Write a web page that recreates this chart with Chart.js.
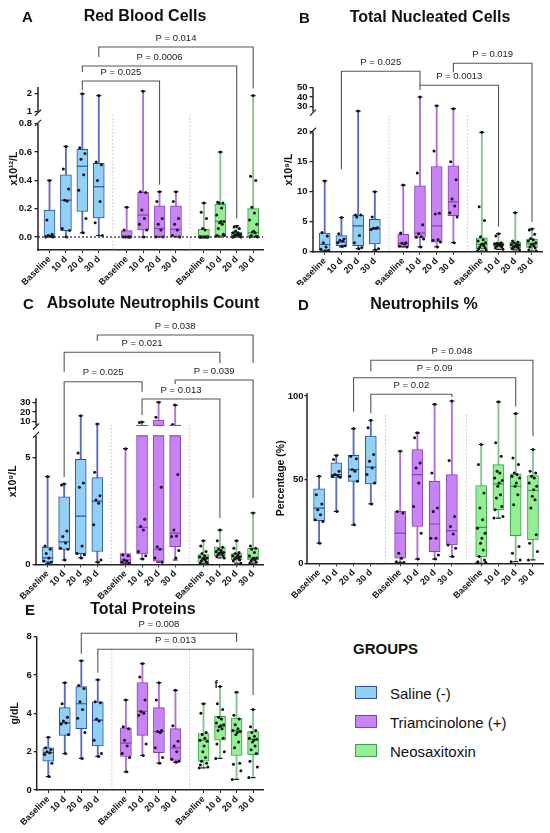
<!DOCTYPE html>
<html>
<head>
<meta charset="utf-8">
<script src="https://cdn.jsdelivr.net/npm/chart.js@4.4.1/dist/chart.umd.min.js"></script>
<style>
body { margin: 0; background: #fff; font-family: "Liberation Sans", Arial, sans-serif; color: #111; }
#wrap { position: relative; width: 550px; height: 833px; overflow: hidden; }
canvas { position: absolute; }
.ttl { position: absolute; font-weight: bold; font-size: 16px; white-space: nowrap; transform: translate(-50%, -50%); }
.let { position: absolute; font-weight: bold; font-size: 15px; transform: translate(0, -50%); }
.lg { position: absolute; font-size: 15px; white-space: nowrap; transform: translate(0, -50%); }
.sw { position: absolute; width: 20px; height: 11px; border: 1.5px solid; }
</style>
</head>
<body>
<div id="wrap">
  <canvas id="cA" width="275" height="295" style="left:0;top:0"></canvas>
  <canvas id="cB" width="275" height="295" style="left:275px;top:0"></canvas>
  <canvas id="cC" width="275" height="325" style="left:0;top:285px"></canvas>
  <canvas id="cD" width="275" height="325" style="left:275px;top:285px"></canvas>
  <canvas id="cE" width="275" height="263" style="left:0;top:570px"></canvas>

  <div class="let" style="left:22px;top:16px">A</div>
  <div class="ttl" style="left:145px;top:16px">Red Blood Cells</div>
  <div class="let" style="left:299px;top:17px">B</div>
  <div class="ttl" style="left:430px;top:17px">Total Nucleated Cells</div>
  <div class="let" style="left:23px;top:303px">C</div>
  <div class="ttl" style="left:153px;top:303px">Absolute Neutrophils Count</div>
  <div class="let" style="left:298px;top:304px">D</div>
  <div class="ttl" style="left:424px;top:304px">Neutrophils %</div>
  <div class="let" style="left:25px;top:609px">E</div>
  <div class="ttl" style="left:143px;top:609px">Total Proteins</div>

  <div class="lg" style="left:353px;top:648px;font-weight:bold">GROUPS</div>
  <div class="sw" style="left:355px;top:686px;background:#92d1f5;border-color:#2f5496"></div>
  <div class="lg" style="left:390px;top:693px">Saline (-)</div>
  <div class="sw" style="left:355px;top:715px;background:#c884f5;border-color:#8b3fb0"></div>
  <div class="lg" style="left:390px;top:722px">Triamcinolone (+)</div>
  <div class="sw" style="left:355px;top:744px;background:#93ef93;border-color:#3f9a4e"></div>
  <div class="lg" style="left:390px;top:751px">Neosaxitoxin</div>
</div>
<script>
// categories (4 time points x 3 groups)
const xLabels = ['Baseline', '10 d', '20 d', '30 d', 'Baseline', '10 d', '20 d', '30 d', 'Baseline', '10 d', '20 d', '30 d'];

// A - Red Blood Cells (x10^12/L)
const rbcMin = [0, 0, 0.03, 0.01, 0, 0, 0, 0, 0, 0, 0, 0];
const rbcQ1 = [0, 0.045, 0.18, 0.135, 0, 0.05, 0, 0, 0, 0.01, 0, 0.005];
const rbcMed = [0.01, 0.26, 0.50, 0.355, 0, 0.155, 0.06, 0.055, 0, 0.11, 0.02, 0.03];
const rbcQ3 = [0.19, 0.44, 0.62, 0.52, 0.045, 0.315, 0.22, 0.22, 0.055, 0.23, 0.035, 0.20];
const rbcMax = [0.40, 0.64, 2.0, 1.9, 0.21, 2.15, 0.32, 0.32, 0.24, 0.60, 0.08, 1.9];
const rbcPts = [
  [0.40, 0.12, 0.02, 0.01, 0.005, 0, 0],
  [0.64, 0.48, 0.34, 0.26, 0.255, 0.06, 0.045, 0],
  [2.0, 0.63, 0.59, 0.55, 0.44, 0.33, 0.13, 0.03],
  [1.9, 0.53, 0.51, 0.40, 0.25, 0.10, 0.01],
  [0.21, 0.05, 0, 0, 0, 0, 0],
  [2.15, 0.32, 0.315, 0.19, 0.13, 0.09, 0.05, 0],
  [0.32, 0.25, 0.13, 0.09, 0.05, 0, 0],
  [0.32, 0.25, 0.13, 0.09, 0.05, 0.01, 0],
  [0.24, 0.175, 0.13, 0.06, 0.05, 0, 0, 0, 0, 0, 0, 0, 0, 0, 0],
  [0.60, 0.245, 0.24, 0.24, 0.205, 0.155, 0.11, 0.11, 0.10, 0.09, 0.06, 0.02, 0.01, 0.01, 0.005],
  [0.075, 0.07, 0.06, 0.04, 0.03, 0.03, 0.02, 0.02, 0.015, 0.01, 0.01, 0.005, 0, 0, 0],
  [1.9, 0.43, 0.40, 0.21, 0.17, 0.12, 0.09, 0.04, 0.035, 0.03, 0.01, 0.005, 0, 0]
];
const rbcTicks = [0, 0.2, 0.4, 0.6, 0.8, 1, 2];
const rbcTickLabels = ['0.0', '0.2', '0.4', '0.6', '0.8', '1', '2'];
const rbcBrackets = [
  { a: 2, b: 6, off: 6, dl: 9, dr: null, t: 'P = 0.025' },
  { a: 2, b: 10, off: 21, dl: 6, dr: null, t: 'P = 0.0006' },
  { a: 3, b: 11, off: 40, dl: 10, dr: null, t: 'P = 0.014' }
];

// B - Total Nucleated Cells (x10^9/L)
const tncMin = [0.1, 0.8, 0.5, 0.3, 0.8, 0.8, 0.8, 1.5, 0.1, 0.4, 0.3, 0.1];
const tncQ1 = [0.2, 1.0, 1.0, 1.3, 0.8, 2.4, 1.6, 6.0, 0.5, 0.9, 0.6, 0.7];
const tncMed = [1.2, 1.6, 4.3, 3.8, 1.4, 3.1, 4.3, 8.3, 1.2, 1.2, 1.0, 1.3];
const tncQ3 = [3.1, 2.7, 6.1, 5.4, 2.9, 11.0, 14.2, 14.3, 2.3, 1.5, 1.6, 2.1];
const tncMax = [11.8, 5.7, 25.5, 10, 11.1, 40, 31, 28, 19.9, 3.0, 6.5, 3.8];
const tncPts = [
  [11.8, 3.2, 2.6, 1.5, 0.8, 0.4, 0.2, 0.1],
  [5.7, 3.0, 2.1, 1.9, 1.8, 1.5, 1.0, 0.9],
  [25.5, 6.1, 6.1, 5.8, 2.7, 1.5, 0.7, 0.5],
  [10, 5.8, 4.0, 3.9, 3.9, 3.7, 0.5, 0.3],
  [11.1, 3.1, 1.5, 1.4, 1.3, 0.9, 0.8],
  [40, 13.1, 4.5, 3.0, 2.5, 2.4, 2.1, 0.8],
  [31, 16.8, 6.4, 6.3, 2.0, 1.9, 1.6, 0.8],
  [28, 15, 12, 8.8, 7.6, 6.5, 5.8, 1.5],
  [19.9, 7.5, 5.2, 2.5, 2.0, 1.8, 1.5, 1.3, 1.2, 1.0, 0.8, 0.6, 0.5, 0.3, 0.1],
  [3.0, 2.6, 1.5, 1.4, 1.3, 1.3, 1.2, 1.2, 1.1, 1.0, 0.9, 0.8, 0.6, 0.4],
  [6.5, 1.8, 1.6, 1.5, 1.3, 1.2, 1.1, 1.0, 0.9, 0.8, 0.7, 0.6, 0.5, 0.3],
  [3.8, 3.6, 2.9, 2.2, 2.0, 1.8, 1.5, 1.3, 1.2, 1.0, 0.8, 0.6, 0.3, 0.1]
];
const tncTicks = [0, 5, 10, 15, 20, 30, 40, 50];
const tncTickLabels = ['0', '5', '10', '15', '20', '30', '40', '50'];
const tncBrackets = [
  { a: 1, b: 5, off: 16, dl: 98, dr: 14, t: 'P = 0.025' },
  { a: 5, b: 9, off: 2, dl: null, dr: null, t: 'P = 0.0013' },
  { a: 7, b: 11, off: 24, dl: 9, dr: null, t: 'P = 0.019' }
];

// C - Absolute Neutrophils Count (x10^9/L)
const ancMin = [0.05, 0.2, 0.3, 0.1, 0.05, 0.25, 0.1, 0.2, 0.02, 0.3, 0.05, 0.05];
const ancQ1 = [0.1, 0.7, 0.5, 0.6, 0.05, 0.48, 0.15, 0.82, 0.1, 0.4, 0.2, 0.2];
const ancMed = [0.3, 1.05, 2.25, 2.95, 0.2, 1.73, 0.71, 1.46, 0.3, 0.55, 0.35, 0.3];
const ancQ3 = [0.8, 3.15, 4.9, 4.05, 0.5, 6.2, 11.5, 6.3, 0.45, 0.8, 0.5, 0.75];
const ancMax = [4.1, 3.75, 16, 7.5, 5.4, 9.5, 30, 27, 1.1, 1.6, 1.1, 2.4];
const ancPts = [
  [4.1, 0.85, 0.7, 0.5, 0.3, 0.15, 0.1, 0.05],
  [3.75, 3.7, 1.55, 1.3, 1.0, 0.75, 0.7, 0.2],
  [16, 5.2, 3.8, 3.6, 0.85, 0.5, 0.45, 0.3],
  [7.5, 4.3, 3.2, 3.0, 2.85, 1.85, 0.2, 0.1],
  [5.4, 0.45, 0.4, 0.2, 0.15, 0.1, 0.05],
  [9.5, 9, 2.1, 1.76, 1.6, 0.6, 0.4, 0.25],
  [30, 14.5, 3.6, 0.82, 0.7, 0.3, 0.1],
  [27, 7, 4.2, 1.6, 1.32, 1.3, 0.64, 0.3],
  [1.1, 0.85, 0.6, 0.5, 0.4, 0.35, 0.3, 0.3, 0.25, 0.2, 0.15, 0.1, 0.05, 0.02],
  [1.6, 1.1, 0.8, 0.7, 0.65, 0.6, 0.55, 0.55, 0.5, 0.5, 0.45, 0.4, 0.35, 0.3],
  [1.1, 0.75, 0.55, 0.5, 0.45, 0.4, 0.35, 0.35, 0.3, 0.3, 0.25, 0.2, 0.15, 0.05],
  [2.4, 0.85, 0.75, 0.7, 0.55, 0.4, 0.3, 0.3, 0.25, 0.2, 0.15, 0.1, 0.05]
];
const ancTicks = [0, 5, 10, 20, 30];
const ancTickLabels = ['0', '5', '10', '20', '30'];
const ancBrackets = [
  { a: 3, b: 11, off: 63.3, dl: 6, dr: 28, t: 'P = 0.038' },
  { a: 1, b: 9, off: 46, dl: 20, dr: 11, t: 'P = 0.021' },
  { a: 1, b: 5, off: 16.6, dl: null, dr: 10, t: 'P = 0.025' },
  { a: 7, b: 11, off: 18.3, dl: 4, dr: 118, t: 'P = 0.039' },
  { a: 5, b: 9, off: -0.7, dl: null, dr: 119, t: 'P = 0.013' }
];

// D - Neutrophils %
const neuMin = [12, 31, 23, 35.5, 0.5, 2.5, 2.5, 4, 0, 27, 1, 2];
const neuQ1 = [25.5, 51, 49, 47.5, 3, 22, 7, 11, 4, 32, 16.5, 14];
const neuMed = [33, 53, 56, 57.5, 18, 53, 23.5, 19.5, 21.5, 47.5, 46, 43.5];
const neuQ3 = [44.5, 60, 64.5, 76, 31, 68, 49, 53, 46.5, 59, 53.5, 52.5];
const neuMax = [52, 64.5, 80.5, 85.5, 67, 78, 95, 97, 71, 96.5, 89.5, 68];
const neuPts = [
  [52, 41, 35.5, 32, 29, 26, 25, 12],
  [64.5, 62, 55, 53, 52.5, 52, 51.5, 31],
  [80.5, 64, 62.5, 56, 55, 52, 49, 23],
  [85.5, 81, 65, 61, 57, 53, 48, 35.5],
  [67, 31, 30, 6, 3, 1, 0.5],
  [78, 75, 60, 57, 48, 34, 18, 2.5],
  [95, 54, 33, 31, 15, 15, 5, 2.5],
  [97, 61.5, 28, 22, 17.5, 11, 9, 4],
  [71, 59, 42, 33, 26, 21, 18, 15, 12, 8, 4, 2, 1, 0.5, 0],
  [96.5, 72, 64, 55, 54, 51, 49.5, 48, 46, 41, 39, 34, 32, 28, 27],
  [89.5, 63, 59, 54, 53, 52, 51, 48, 46, 41, 35, 10, 6, 2, 1],
  [68, 55, 54, 52, 51, 48, 46, 44, 40, 38, 33, 17, 12, 7, 2]
];
const neuTicks = [0, 50, 100];
const neuTickLabels = ['0', '50', '100'];
const neuBrackets = [
  { a: 3, b: 11, off: 33, dl: 11, dr: 76, t: 'P = 0.048' },
  { a: 2, b: 10, off: 15.6, dl: 34, dr: null, t: 'P = 0.09' },
  { a: 3, b: 7, off: -1, dl: null, dr: 3, t: 'P = 0.02' }
];

// E - Total Proteins (g/dL)
const tpMin = [0.7, 1.9, 1.65, 1.75, 0.95, 1.8, 1.4, 1.45, 1.15, 1.65, 0.55, 0.65];
const tpQ1 = [1.5, 2.85, 3.2, 2.3, 1.75, 2.85, 1.95, 1.55, 1.5, 2.6, 1.8, 1.85];
const tpMed = [1.95, 3.5, 4.5, 3.65, 2.45, 4.1, 3.05, 2.2, 2.6, 3.3, 3.1, 2.65];
const tpQ3 = [2.2, 4.3, 5.4, 4.6, 3.25, 5.6, 4.3, 3.2, 2.95, 3.85, 3.75, 3.05];
const tpMax = [2.75, 5.6, 6.75, 5.75, 4.7, 6.6, 5.6, 5.2, 4.5, 5.4, 5.1, 4.2];
const tpPts = [
  [2.75, 2.2, 2.1, 2.0, 1.95, 1.85, 1.4, 0.7],
  [5.6, 4.5, 3.8, 3.6, 3.5, 3.45, 2.9, 1.9],
  [6.75, 5.45, 5.3, 4.6, 4.2, 3.75, 3.0, 1.65],
  [5.75, 4.6, 4.55, 3.7, 3.6, 2.6, 1.9, 1.75],
  [4.7, 3.3, 3.2, 2.6, 2.3, 1.9, 1.7, 0.95],
  [6.6, 5.9, 4.7, 4.1, 4.0, 3.9, 2.4, 1.8],
  [5.6, 4.7, 3.1, 3.05, 3.0, 2.2, 1.7, 1.4],
  [5.2, 3.35, 2.55, 2.3, 2.0, 1.6, 1.5, 1.45],
  [4.5, 4.0, 3.0, 2.9, 2.7, 2.6, 2.55, 2.3, 2.0, 1.7, 1.5, 1.4, 1.3, 1.2, 1.15],
  [5.4, 4.5, 4.2, 3.8, 3.7, 3.5, 3.4, 3.35, 3.3, 3.2, 3.1, 2.7, 2.4, 2.0, 1.65],
  [5.1, 3.9, 3.7, 3.4, 3.2, 3.1, 3.05, 3.0, 2.9, 2.5, 2.2, 1.4, 1.35, 1.0, 0.55],
  [4.2, 3.3, 3.1, 3.0, 2.8, 2.7, 2.65, 2.6, 2.5, 2.3, 2.1, 1.9, 1.5, 1.2, 0.65]
];
const tpTicks = [0, 2, 4, 6, 8];
const tpTickLabels = ['0', '2', '4', '6', '8'];
const tpBrackets = [
  { a: 2, b: 10, off: 3.4, dl: null, dr: 8.4, t: 'P = 0.008' },
  { a: 3, b: 11, off: -12.6, dl: null, dr: 45.7, t: 'P = 0.013' }
];

// layout / style
const xPos = [0, 1, 2, 3, 4.7, 5.7, 6.7, 7.7, 9.4, 10.4, 11.4, 12.4];
const sepPos = [3.85, 8.55];
const jit = [0, -0.16, 0.16, -0.08, 0.08, -0.22, 0.22, 0.04, -0.04, 0.12, -0.12, 0.19, -0.19, 0.26, -0.26];
const pick = (i, a, b, c) => (i < 4 ? a : i < 8 ? b : c);
const fills = xPos.map((_, i) => pick(i, '#92d1f5', '#c884f5', '#93ef93'));
const edges = xPos.map((_, i) => pick(i, '#2f5496', '#8b3fb0', '#3f9a4e'));
const whisk = xPos.map((_, i) => pick(i, '#5a6cc0', '#b070d6', '#86c292'));
const FONT = '"Liberation Sans", Arial, sans-serif';

Chart.defaults.font.family = FONT;
Chart.defaults.color = '#111';

// piecewise mapping for broken y axes
function makeT(b) {
  if (!b) return v => v;
  return v => {
    if (v <= b.lowMax) return v;
    if (v >= b.highMin) return b.hd + (v - b.highMin) * b.hs;
    return b.lowMax + (v - b.lowMax) / (b.highMin - b.lowMax) * (b.hd - b.lowMax);
  };
}
function gapHi(b) { return b.hd + Math.max(0, b.lowMax - b.highMin) * b.hs; }

function extras(p, T) {
  const line = (ctx, x1, y1, x2, y2) => { ctx.beginPath(); ctx.moveTo(x1, y1); ctx.lineTo(x2, y2); ctx.stroke(); };
  return {
    id: 'extras',
    beforeDatasetsDraw(chart) {
      const { ctx, chartArea: a, scales: { x, y } } = chart;
      ctx.save();
      ctx.strokeStyle = '#c4c4c4';
      ctx.lineWidth = 1;
      ctx.setLineDash([1.5, 2]);
      sepPos.forEach(s => {
        const px = x.getPixelForValue(s);
        line(ctx, px, y.getPixelForValue(T(p.sepTop)), px, a.bottom);
      });
      ctx.restore();
    },
    afterDatasetsDraw(chart) {
      const { ctx, chartArea: a, scales: { x, y } } = chart;
      ctx.save();
      if (p.brk) {
        const g1 = y.getPixelForValue(p.brk.lowMax), g2 = y.getPixelForValue(gapHi(p.brk));
        p.q3.forEach((q, i) => {
          if (q > p.brk.lowMax && p.q1[i] < p.brk.lowMax) {
            const px = x.getPixelForValue(xPos[i]);
            ctx.fillStyle = '#fff';
            ctx.fillRect(px - 7, g2 + 0.5, 14, g1 - g2 - 1);
            ctx.strokeStyle = edges[i];
            ctx.lineWidth = 1;
            line(ctx, px - 5.5, g1, px + 5.5, g1);
            line(ctx, px - 5.5, g2, px + 5.5, g2);
          }
        });
      }
      if (p.zero) {
        ctx.strokeStyle = '#333';
        ctx.lineWidth = 1.3;
        ctx.setLineDash([2, 2]);
        const zy = y.getPixelForValue(T(0));
        line(ctx, a.left, zy, a.right, zy);
      }
      ctx.restore();
    },
    afterDraw(chart) {
      const { ctx, chartArea: a, scales: { x, y } } = chart;
      ctx.save();
      // y axis line (with break)
      ctx.strokeStyle = '#222';
      ctx.lineWidth = 1.5;
      if (p.brk) {
        const g1 = y.getPixelForValue(p.brk.lowMax), g2 = y.getPixelForValue(gapHi(p.brk));
        line(ctx, a.left, a.bottom + 0.75, a.left, g1);
        line(ctx, a.left, g2, a.left, a.top);
        ctx.lineWidth = 1.2;
        line(ctx, a.left - 3, g1 + 2, a.left + 3, g1 - 4);
        line(ctx, a.left - 3, g2 + 4, a.left + 3, g2 - 2);
      } else {
        line(ctx, a.left, a.bottom + 0.75, a.left, a.top);
      }
      // significance brackets
      ctx.strokeStyle = '#555';
      ctx.lineWidth = 1.1;
      ctx.fillStyle = '#222';
      ctx.font = '9.5px ' + FONT;
      ctx.textAlign = 'center';
      ctx.textBaseline = 'middle';
      p.brackets.forEach(b => {
        const xa = x.getPixelForValue(xPos[b.a]), xb = x.getPixelForValue(xPos[b.b]);
        const ly = a.top - b.off;
        const ya = b.dl == null ? y.getPixelForValue(T(p.max[b.a])) - 7 : ly + b.dl;
        const yb = b.dr == null ? y.getPixelForValue(T(p.max[b.b])) - 7 : ly + b.dr;
        ctx.beginPath();
        ctx.moveTo(xa, ya);
        ctx.lineTo(xa, ly);
        ctx.lineTo(xb, ly);
        ctx.lineTo(xb, yb);
        ctx.stroke();
        ctx.fillText(b.t, (xa + xb) / 2, ly - 9);
      });
      if (p.note) {
        ctx.font = 'bold 10px ' + FONT;
        ctx.fillText(p.note.t, x.getPixelForValue(xPos[p.note.i]) - 4, y.getPixelForValue(T(p.max[p.note.i])) - 1);
      }
      ctx.restore();
    }
  };
}

function buildPanel(p) {
  const T = makeT(p.brk);
  const pts = [];
  p.pts.forEach((g, i) => g.forEach((v, j) => pts.push({ x: xPos[i] + jit[j % jit.length], y: T(v) })));
  const caps = [];
  xPos.forEach((x, i) => { caps.push({ x: x, y: T(p.min[i]) }, { x: x, y: T(p.max[i]) }); });
  new Chart(document.getElementById(p.id), {
    type: 'bar',
    data: {
      datasets: [
        {
          label: 'range', order: 5, grouped: false, barThickness: 1.2,
          data: xPos.map((x, i) => ({ x: x, y: [T(p.min[i]), T(p.max[i])] })),
          backgroundColor: whisk
        },
        {
          label: 'box', order: 4, grouped: false, barThickness: 11,
          data: xPos.map((x, i) => ({ x: x, y: [T(p.q1[i]), T(p.q3[i])] })),
          backgroundColor: fills, borderColor: edges, borderWidth: 1, borderSkipped: false
        },
        {
          type: 'scatter', label: 'caps', order: 3, data: caps,
          pointStyle: 'line', pointRadius: 2.5, pointBorderWidth: 1.2, pointBorderColor: '#222'
        },
        {
          type: 'scatter', label: 'median', order: 2,
          data: xPos.map((x, i) => ({ x: x, y: T(p.med[i]) })),
          pointStyle: 'line', pointRadius: 5.5, pointBorderWidth: 1.2, pointBorderColor: edges
        },
        {
          type: 'scatter', label: 'values', order: 1, data: pts,
          pointRadius: 1.5, pointBackgroundColor: '#111', pointBorderWidth: 0
        }
      ]
    },
    options: {
      responsive: false,
      animation: false,
      events: [],
      layout: { padding: p.pad },
      plugins: { legend: { display: false }, tooltip: { enabled: false } },
      scales: {
        x: {
          type: 'linear', min: -0.7, max: 13.0, offset: false,
          afterBuildTicks: s => { s.ticks = xPos.map(v => ({ value: v })); },
          afterFit: s => { s.height = p.xH; },
          ticks: {
            callback: (v, i) => xLabels[i], autoSkip: false, maxRotation: 45, minRotation: 45,
            font: { weight: 'bold', size: 9 }, color: '#111', padding: 1
          },
          grid: { display: true, drawOnChartArea: false, drawTicks: true, tickLength: 3, color: '#222', offset: false },
          border: { display: true, color: '#222', width: 1.5 }
        },
        y: {
          type: 'linear', bounds: 'data', min: T(p.yBot), max: T(p.yTop),
          afterBuildTicks: s => { s.ticks = p.ticks.map(v => ({ value: T(v) })); },
          afterFit: s => { s.width = p.yW; },
          ticks: {
            callback: (v, i) => p.tickLabels[i], autoSkip: false,
            font: { weight: 'bold', size: 9.5 }, color: '#111', padding: p.tickPad
          },
          grid: { display: true, drawOnChartArea: false, drawTicks: true, tickLength: p.tickLen, color: '#222', lineWidth: 1.3 },
          border: { display: false },
          title: { display: true, text: p.yTitle, font: { weight: 'bold', size: 10.5 }, color: '#111', padding: 0 }
        }
      }
    },
    plugins: [extras(p, T)]
  });
}

buildPanel({
  id: 'cA', min: rbcMin, q1: rbcQ1, med: rbcMed, q3: rbcQ3, max: rbcMax, pts: rbcPts,
  ticks: rbcTicks, tickLabels: rbcTickLabels, brackets: rbcBrackets, yTitle: 'x10¹²/L',
  yBot: -0.092, yTop: 2.38, brk: { lowMax: 0.8, highMin: 1, hd: 0.885, hs: 0.127 }, sepTop: 0.95, zero: true,
  pad: { left: 7.5, right: 12, top: 87, bottom: 10 }, yW: 30.5, xH: 35, tickLen: 3.5, tickPad: 2.5
});
buildPanel({
  id: 'cB', min: tncMin, q1: tncQ1, med: tncMed, q3: tncQ3, max: tncMax, pts: tncPts,
  ticks: tncTicks, tickLabels: tncTickLabels, brackets: tncBrackets, yTitle: 'x10⁹/L',
  yBot: 0, yTop: 50, brk: { lowMax: 20, highMin: 25, hd: 23.36, hs: 0.1617 }, sepTop: 24,
  pad: { left: 7.5, right: 8, top: 87.3, bottom: 10 }, yW: 30.5, xH: 33.3, tickLen: 3.5, tickPad: 2
});
buildPanel({
  id: 'cC', min: ancMin, q1: ancQ1, med: ancMed, q3: ancQ3, max: ancMax, pts: ancPts,
  ticks: ancTicks, tickLabels: ancTickLabels, brackets: ancBrackets, yTitle: 'x10⁹/L',
  yBot: 0, yTop: 34, brk: { lowMax: 6, highMin: 5.5, hd: 6.463, hs: 0.0453 }, sepTop: 7,
  pad: { left: 7.3, right: 12, top: 113.3, bottom: 9.7 }, yW: 28.7, xH: 36, tickLen: 3.5, tickPad: 2
});
buildPanel({
  id: 'cD', min: neuMin, q1: neuQ1, med: neuMed, q3: neuQ3, max: neuMax, pts: neuPts,
  ticks: neuTicks, tickLabels: neuTickLabels, brackets: neuBrackets, yTitle: 'Percentage (%)',
  yBot: 0, yTop: 101.6, brk: null, sepTop: 88.8,
  pad: { left: 0, right: 5, top: 108.3, bottom: 10.7 }, yW: 32, xH: 36, tickLen: 2.5, tickPad: 1
});
buildPanel({
  id: 'cE', min: tpMin, q1: tpQ1, med: tpMed, q3: tpQ3, max: tpMax, pts: tpPts,
  ticks: tpTicks, tickLabels: tpTickLabels, brackets: tpBrackets, yTitle: 'g/dL',
  yBot: 0, yTop: 8, brk: null, sepTop: 7.3, note: { i: 9, t: 'f' },
  pad: { left: 9, right: 12, top: 66.7, bottom: 7 }, yW: 27.7, xH: 36, tickLen: 3, tickPad: 2
});
</script>
</body>
</html>
